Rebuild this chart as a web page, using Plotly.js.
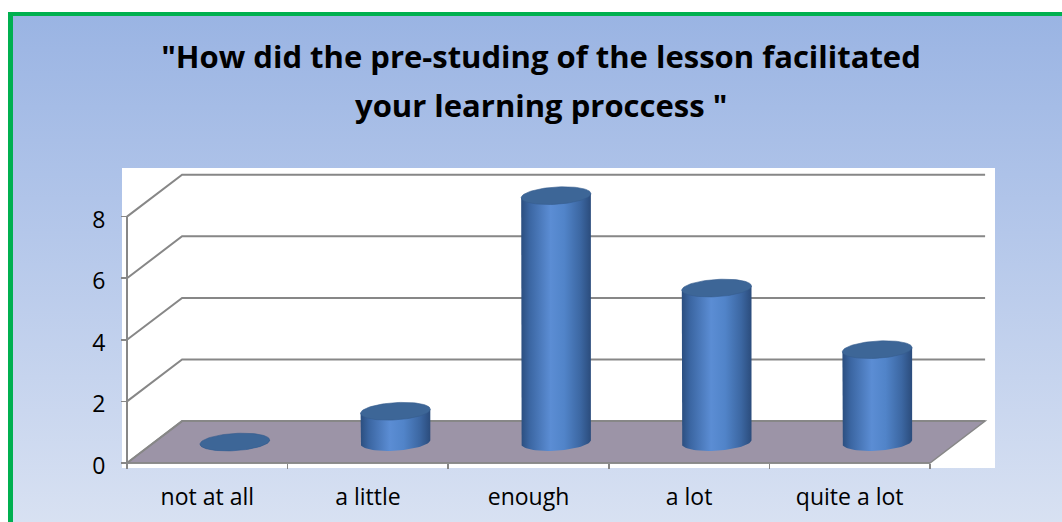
<!DOCTYPE html>
<html>
<head>
<meta charset="utf-8">
<script src="https://cdn.plot.ly/plotly-3.0.1.min.js"></script>
<style>
  html, body { margin:0; padding:0; width:1062px; height:522px; overflow:hidden; background:#ffffff; }
  #frame { position:absolute; left:8px; top:12px; width:1100px; height:540px;
           border-left:5px solid #00B050; border-top:4px solid #00B050;
           background:linear-gradient(to bottom, #9AB4E3 0%, #B4C7EA 40%, #DCE4F3 100%); }
  #chart { position:absolute; left:0; top:0; width:1062px; height:522px; }
</style>
</head>
<body>
<div id="frame"></div>
<div id="chart"></div>
<script>
// ---- data ----
const categories = ['not at all', 'a little', 'enough', 'a lot', 'quite a lot'];
const values = [0, 1, 8, 5, 3];
const yTicks = [0, 2, 4, 6, 8];
const titleLine1 = '"How did the pre-studing of the lesson facilitated';
const titleLine2 = 'your learning proccess "';

// ---- style / geometry constants ----
const X_RANGE = [-0.5311, 4.9047];
const Y_RANGE = [-0.1623, 9.578];
const DX = 0.343, DY = 1.36;       // depth offset (3D look)
const RX = 0.217, RY = 0.28;       // cylinder radii
const SHEAR = 0.31;                // slight tilt of ellipses
const GRID = '#878787';
const FONT = '"Open Sans", Lato, sans-serif';

const n = categories.length;
const xMin = -0.5, xMax = n - 0.5;
const yTop = Math.max(...yTicks);

const shapes = [];
// floor
shapes.push({type:'path', xref:'x2', yref:'y', layer:'below',
  path:`M ${xMin},0 L ${xMax},0 L ${xMax+DX},${DY} L ${xMin+DX},${DY} Z`,
  fillcolor:'#9C94A7', line:{color:GRID, width:1.5}});
// back-wall gridlines
yTicks.forEach(t => {
  shapes.push({type:'path', xref:'x2', yref:'y', layer:'below',
    path:`M ${xMin},${t} L ${xMin+DX},${t+DY} L ${xMax+DX},${t+DY}`,
    line:{color:GRID, width:2}});
});
// front vertical axis line
shapes.push({type:'line', xref:'x2', yref:'y', layer:'below',
  x0:xMin, x1:xMin, y0:0, y1:yTop, line:{color:GRID, width:2}});
// front horizontal axis line
shapes.push({type:'line', xref:'x2', yref:'y', layer:'below',
  x0:xMin, x1:xMax, y0:0, y1:0, line:{color:GRID, width:1.5}});

const traces = [];
// invisible trace to drive the category axis
traces.push({type:'scatter', x:categories, y:values, xaxis:'x', yaxis:'y',
  mode:'markers', marker:{opacity:0}, hoverinfo:'skip', showlegend:false});

const N = 40;
values.forEach((v, i) => {
  const cx = i + DX/2, by = DY/2, ty = v + DY/2;
  // body
  const bx = [], byy = [];
  bx.push(cx - RX); byy.push(ty - SHEAR*RX);
  for (let k = 0; k <= N; k++) {
    const p = Math.PI * k / N;
    const x = cx - RX*Math.cos(p);
    bx.push(x); byy.push(by - RY*Math.sin(p) + SHEAR*(x - cx));
  }
  bx.push(cx + RX); byy.push(ty + SHEAR*RX);
  bx.push(cx - RX); byy.push(ty - SHEAR*RX);
  traces.push({type:'scatter', x:bx, y:byy, xaxis:'x2', yaxis:'y',
    mode:'lines', fill:'toself', line:{width:0, color:'rgba(0,0,0,0)'},
    fillgradient:{type:'horizontal', colorscale:[
      [0,'#2B4E7F'],[0.12,'#3B66A2'],[0.42,'#5B8DD4'],[0.62,'#5184C9'],[0.85,'#3C67A2'],[1,'#2B4C7C']]},
    hoverinfo:'skip', showlegend:false});
  // top ellipse
  const tx = [], tyy = [];
  for (let k = 0; k <= 2*N; k++) {
    const p = Math.PI * k / N;
    const x = cx + RX*Math.cos(p);
    tx.push(x); tyy.push(ty + RY*Math.sin(p) + SHEAR*(x - cx));
  }
  traces.push({type:'scatter', x:tx, y:tyy, xaxis:'x2', yaxis:'y',
    mode:'lines', fill:'toself', fillcolor:'#3D6697', line:{width:0.6, color:'#365D8D'},
    hoverinfo:'skip', showlegend:false});
});

const layout = {
  width:1062, height:522,
  margin:{l:122, r:67, t:168, b:54, pad:0},
  paper_bgcolor:'rgba(0,0,0,0)', plot_bgcolor:'#ffffff',
  showlegend:false,
  font:{family:FONT, color:'#000000'},
  title:{text:'<b>' + titleLine1 + '</b>', font:{family:FONT, size:31, color:'#000'},
    x:541/1062, xref:'container', xanchor:'center', y:1-57/522, yref:'container', yanchor:'middle'},
  annotations:[{text:'<b>' + titleLine2 + '</b>', xref:'paper', yref:'paper',
    x:(541-122)/873, y:(468-105)/300, xanchor:'center', yanchor:'middle', showarrow:false,
    font:{family:FONT, size:31, color:'#000'}}],
  xaxis:{type:'category', range:X_RANGE, tickson:'boundaries', ticks:'outside', ticklen:5,
    tickcolor:GRID, tickwidth:1.5, showgrid:false, zeroline:false, showline:false,
    anchor:'free', position:5/300, tickfont:{family:FONT, size:23, color:'#000'},
    ticklabelstandoff:18, fixedrange:true},
  xaxis2:{overlaying:'x', range:X_RANGE, visible:false, fixedrange:true, anchor:'y'},
  yaxis:{range:Y_RANGE, tickvals:yTicks, ticks:'outside', ticklen:6, tickcolor:GRID, tickwidth:1.5,
    showgrid:false, zeroline:false, showline:false, anchor:'free', position:5/873,
    tickfont:{family:FONT, size:23, color:'#000'}, ticklabelstandoff:11, ticklabelshift:3,
    fixedrange:true},
  shapes:shapes
};

Plotly.newPlot('chart', traces, layout, {displayModeBar:false, staticPlot:true});
</script>
</body>
</html>
